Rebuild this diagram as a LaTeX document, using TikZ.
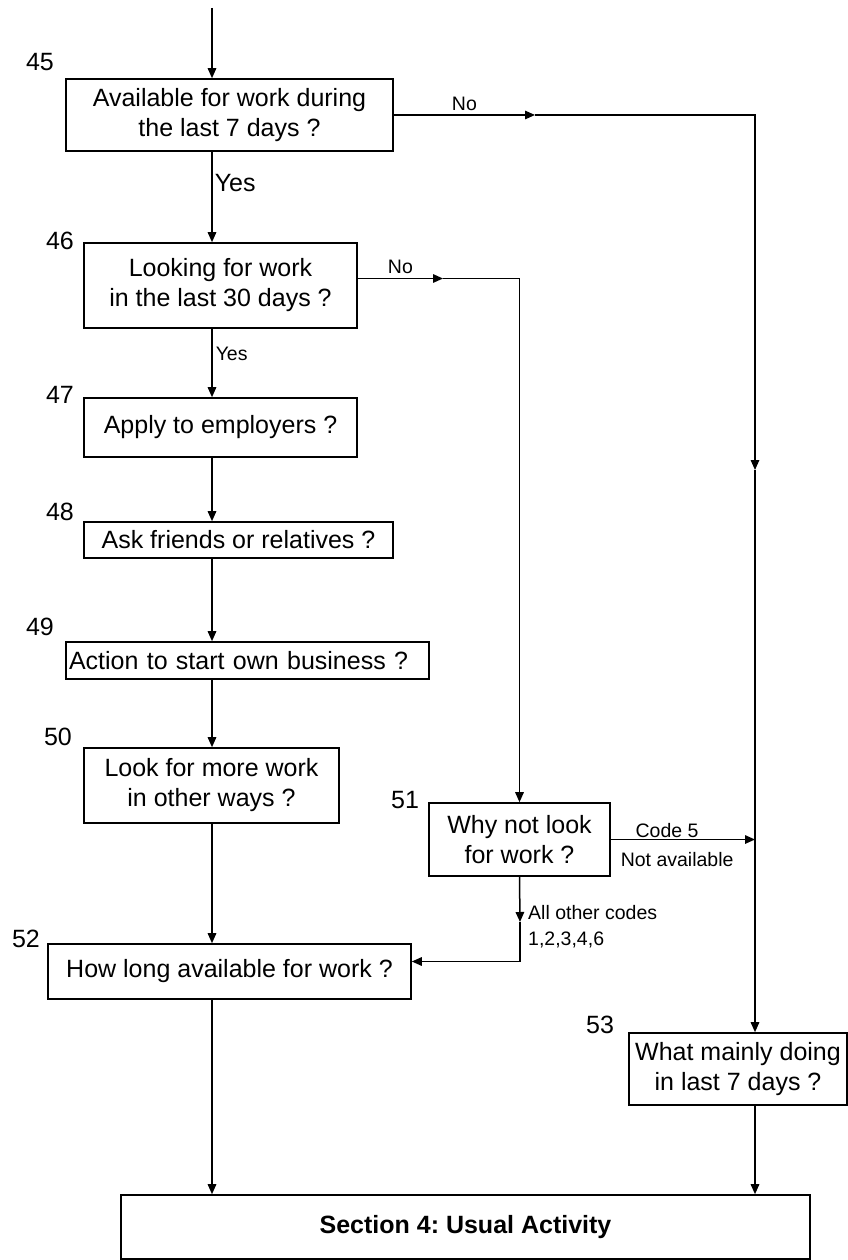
\documentclass[tikz,border=0pt]{standalone}
\usepackage{fontspec}
\setmainfont{Liberation Sans}
\frenchspacing
\usetikzlibrary{arrows.meta, positioning, calc}

\begin{document}
\begin{tikzpicture}[x=1pt, y=-1pt,
    every node/.style={font=\fontsize{25}{30}\selectfont},
    qbox/.style={draw, rectangle, line width=1.6pt, align=center, inner sep=2pt},
    qnum/.style={font=\fontsize{25}{30}\selectfont},
    small/.style={font=\fontsize{19.5}{23}\selectfont, inner sep=1pt},
    arrow/.style={-{Triangle[length=10pt, width=8.5pt]}, line width=1.5pt}
]
    \useasboundingbox (0,0) rectangle (848,1260);

    % Questions
    \node (q45) [qbox, minimum width=327pt, minimum height=72pt] at (229.5,115) {Available for work during\\the last 7 days ?};
    \node (q46) [qbox, minimum width=273pt, minimum height=85pt] at (220.5,285.5) {Looking for work\\in the last 30 days ?};
    \node (q47) [qbox, minimum width=273pt, minimum height=59pt] at (220.5,427.5) {Apply to employers ?};
    \node (q48) [qbox, minimum width=309pt, minimum height=36pt] at (238.5,540) {Ask friends or relatives ?};
    \node (q49) [qbox, text width=357pt, inner xsep=3pt, minimum height=37pt, align=left] at (247.5,660.5) {Action to start own business ?};
    \node (q50) [qbox, minimum width=255pt, minimum height=75pt] at (211.5,785.5) {Look for more work\\in other ways ?};
    \node (q51) [qbox, minimum width=181pt, minimum height=73pt] at (519.5,839.5) {Why not look\\for work ?};
    \node (q52) [qbox, minimum width=363pt, minimum height=55pt] at (229.5,971.5) {How long available for work ?};
    \node (q53) [qbox, minimum width=218pt, minimum height=72pt] at (738,1069) {What mainly doing\\in last 7 days ?};

    % Next section
    \node (sec4) [qbox, minimum width=689pt, minimum height=64pt] at (465.5,1227) {\textbf{Section 4: Usual Activity}};

    % Question numbers
    \node (n45) [qnum] at (40,62) {45};
    \node (n46) [qnum] at (60,241) {46};
    \node (n47) [qnum] at (60,395) {47};
    \node (n48) [qnum] at (60,512) {48};
    \node (n49) [qnum] at (40,627) {49};
    \node (n50) [qnum] at (58,737) {50};
    \node (n51) [qnum] at (405,800) {51};
    \node (n52) [qnum] at (26,939) {52};
    \node (n53) [qnum] at (600,1025) {53};

    % Turning points
    \coordinate (start) at (212,8);
    \coordinate (noA) at (535,115);
    \coordinate (rtop) at (755,115);
    \coordinate (rmid) at (755,470);
    \coordinate (noB) at (443,278.5);
    \coordinate (m51) at (520,922);

    % Main column
    \draw [arrow] (start) -- (start |- q45.north);
    \draw [arrow] (start |- q45.south) -- node[right, pos=0.35, inner sep=2pt] {Yes} (start |- q46.north);
    \draw [arrow] (start |- q46.south) -- node[small, right, pos=0.37, inner sep=3pt] {Yes} (start |- q47.north);
    \draw [arrow] (start |- q47.south) -- (start |- q48.north);
    \draw [arrow] (start |- q48.south) -- (start |- q49.north);
    \draw [arrow] (start |- q49.south) -- (start |- q50.north);
    \draw [arrow] (start |- q50.south) -- (start |- q52.north);
    \draw [arrow] (start |- q52.south) -- (start |- sec4.north);

    % Not available branch
    \draw [arrow] (q45.east) -- node[small, above, inner sep=4pt] {No} (noA);
    \draw [arrow] (noA) -- (rtop) -- (rmid);
    \draw [arrow] (rmid) -- (rtop |- q53.north);
    \draw [arrow] (rtop |- q53.south) -- (rtop |- sec4.north);

    % Not looking branch
    \draw [arrow] ([yshift=7pt]q46.east) -- node[small, above, inner sep=4pt] {No} (noB);
    \draw [arrow] (noB) -| (q51.north);
    \draw [arrow] (q51.east) -- node[small, above, pos=0.39] {Code 5} node[small, below, pos=0.46, yshift=-11pt] {Not available} (q51.east -| rtop);
    \draw [arrow] (q51.south) -- (m51);
    \draw [arrow] (m51) |- ([yshift=10pt]q52.east);
    \node (others) [small, anchor=west] at (527,913) {All other codes};
    \node (codes) [small, anchor=west] at (527,940) {1,2,3,4,6};

\end{tikzpicture}
\end{document}
